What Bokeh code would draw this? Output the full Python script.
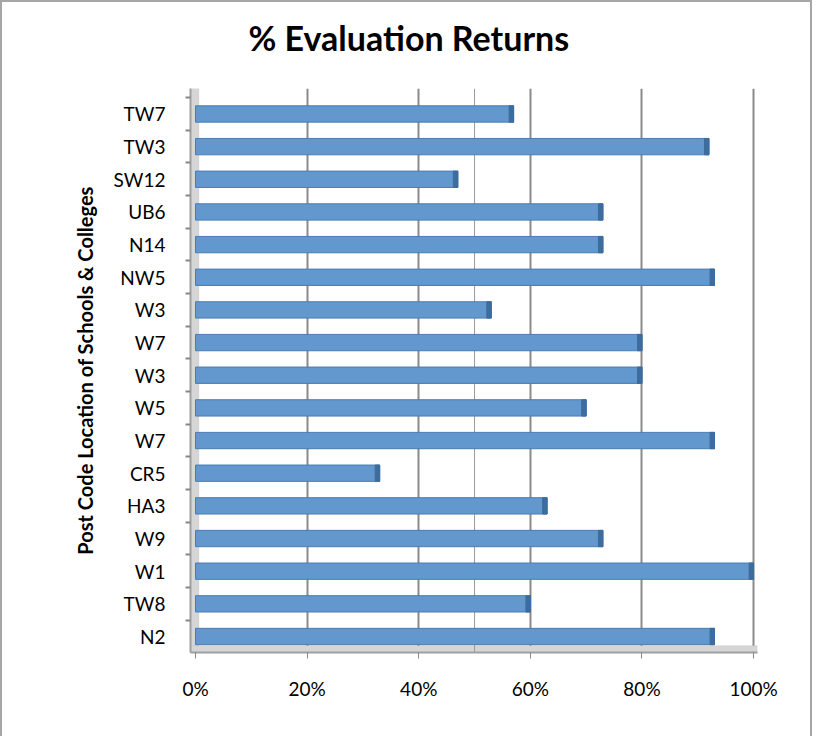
from bokeh.plotting import figure
from bokeh.models import (ColumnDataSource, FixedTicker, BoxAnnotation, Span, Title)
from bokeh.embed import file_html
from bokeh.resources import INLINE

# ---- data (bottom to top, as drawn) ----
post_codes = ["N2", "TW8", "W1", "W9", "HA3", "CR5", "W7", "W5", "W3",
              "W7", "W3", "NW5", "N14", "UB6", "SW12", "TW3", "TW7"]
returns_pct = [93, 60, 100, 73, 63, 33, 93, 70, 80,
               80, 53, 93, 73, 73, 47, 92, 57]
x_ticks = [0, 20, 40, 60, 80, 100]
x_tick_labels = ["0%", "20%", "40%", "60%", "80%", "100%"]
chart_title = "% Evaluation Returns"

positions = list(range(1, len(post_codes) + 1))
cap = [max(v - 0.8, 0) for v in returns_pct]

src = ColumnDataSource(dict(y=positions, v=returns_pct, cap=cap,
                            code=post_codes))

p = figure(width=812, height=736, output_backend="svg", toolbar_location=None,
           x_range=(-0.9, 100.7), y_range=(0.51, 17.78),
           min_border_left=188, min_border_right=57,
           min_border_top=86, min_border_bottom=86,
           background_fill_color="white", border_fill_color="white",
           outline_line_color=None,
           styles={"border-top": "2px solid #a6a6a6",
                   "border-left": "2px solid #a6a6a6",
                   "border-right": "2px solid #a6a6a6"})

# spacer (closest to the frame), then the real title above it
p.add_layout(Title(text=" ", text_font_size="1px", standoff=28), "above")
p.add_layout(Title(text=chart_title, align="left", offset=58,
                   text_font="Lato", text_font_size="34px",
                   text_font_style="bold", text_color="black", standoff=0),
             "above")

# 3D-like walls
p.add_layout(BoxAnnotation(left=-0.9, right=0.6, fill_color="#d6d6d6",
                           fill_alpha=1, line_color="#b8b8b8", line_width=1,
                           level="underlay"))
p.add_layout(BoxAnnotation(bottom=0.51, top=0.72, fill_color="#d6d6d6",
                           fill_alpha=1, line_color="#b8b8b8", line_width=1,
                           level="underlay"))
p.add_layout(Span(location=50, dimension="height", line_color="#9a9a9a",
                  line_width=1, level="underlay"))

# gridlines
p.xgrid.ticker = FixedTicker(ticks=[20, 40, 60, 80, 100])
p.xgrid.grid_line_color = "#8a8a8a"
p.xgrid.grid_line_width = 2
p.ygrid.grid_line_color = None

# bars
p.hbar(y="y", left=0, right="v", height=0.5, source=src,
       fill_color="#6298ce", line_color="#4a7cb2", line_width=1)
p.hbar(y="y", left="cap", right="v", height=0.5, source=src,
       fill_color="#3d6c9e", line_color="#3d6c9e", line_width=1)

# x axis
p.xaxis.ticker = FixedTicker(ticks=x_ticks)
p.xaxis.major_label_overrides = {t: l for t, l in zip(x_ticks, x_tick_labels)}
p.xaxis.major_label_text_font = "Lato"
p.xaxis.major_label_text_font_size = "19px"
p.xaxis.major_label_text_color = "black"
p.xaxis.major_label_standoff = 18
p.xaxis.axis_line_color = "#a0a0a0"
p.xaxis.axis_line_width = 2
p.xaxis.major_tick_line_color = "#888888"
p.xaxis.major_tick_out = 6
p.xaxis.major_tick_in = 0
p.xaxis.minor_tick_line_color = None

# y axis
p.yaxis.ticker = FixedTicker(ticks=positions,
                             minor_ticks=[i + 0.5 for i in range(0, 18)])
p.yaxis.major_label_overrides = {i: c for i, c in zip(positions, post_codes)}
p.yaxis.major_label_text_font = "Lato"
p.yaxis.major_label_text_font_size = "19px"
p.yaxis.major_label_text_color = "black"
p.yaxis.major_label_standoff = 19
p.yaxis.major_tick_line_color = None
p.yaxis.minor_tick_line_color = "#888888"
p.yaxis.minor_tick_line_width = 2
p.yaxis.minor_tick_out = 5
p.yaxis.minor_tick_in = 0
p.yaxis.axis_line_color = "#a0a0a0"
p.yaxis.axis_line_width = 2
p.yaxis.axis_label = "Post Code Location of Schools & Colleges"
p.yaxis.axis_label_text_font = "Lato"
p.yaxis.axis_label_text_font_size = "20px"
p.yaxis.axis_label_text_font_style = "bold"
p.yaxis.axis_label_text_color = "black"
p.yaxis.axis_label_standoff = 14

open("out.html", "w").write(file_html(p, INLINE))
